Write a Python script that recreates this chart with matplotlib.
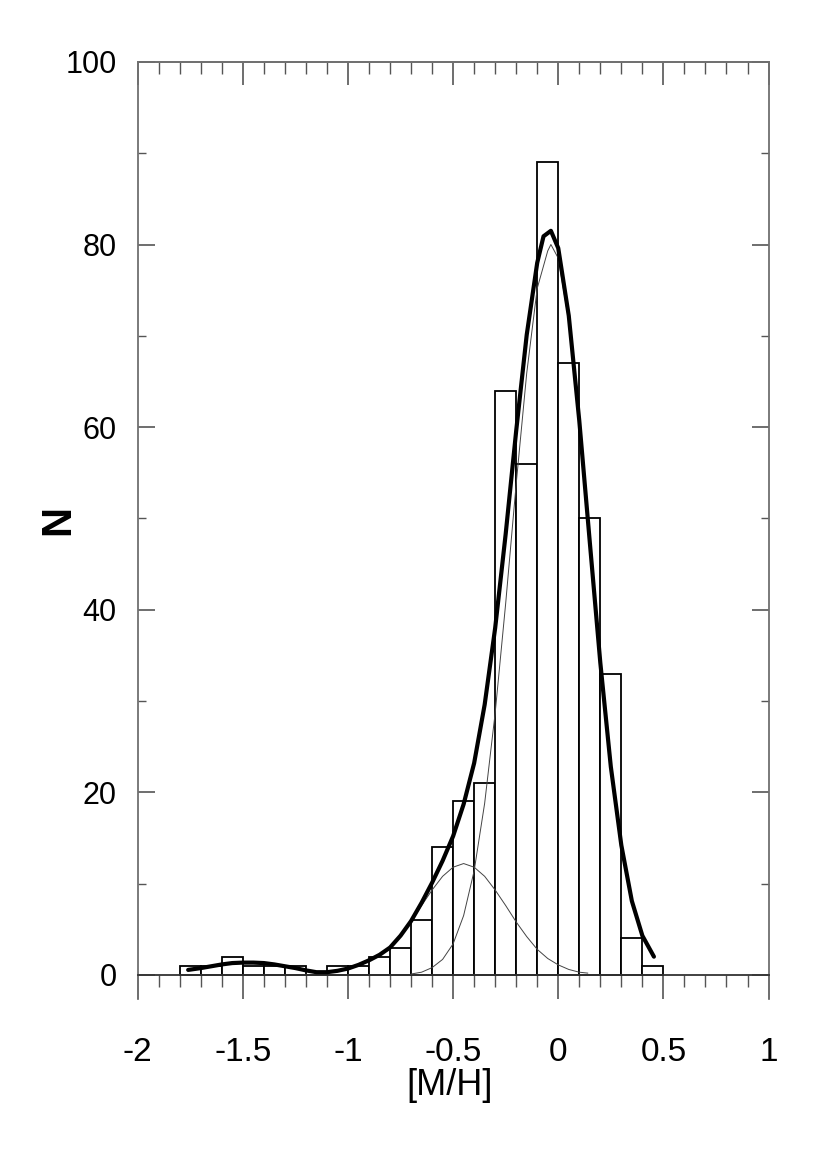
import matplotlib
matplotlib.use("Agg")
import matplotlib.pyplot as plt
from matplotlib.ticker import MultipleLocator

plt.rcParams['font.family'] = ['Liberation Sans', 'DejaVu Sans']

# [M/H] histogram, bins 0.1 wide (left edges)
bin_left = [-1.8, -1.7, -1.6, -1.5, -1.4, -1.3, -1.2, -1.1, -1.0, -0.9, -0.8, -0.7,
            -0.6, -0.5, -0.4, -0.3, -0.2, -0.1, 0.0, 0.1, 0.2, 0.3, 0.4]
counts = [1, 1, 2, 1, 1, 1, 0, 1, 1, 2, 3, 6,
          14, 19, 21, 64, 56, 89, 67, 50, 33, 4, 1]

# total fit (thick line)
fit_x = [-1.76, -1.70, -1.65, -1.60, -1.55, -1.50, -1.45, -1.40, -1.35, -1.30,
         -1.25, -1.20, -1.15, -1.10, -1.05, -1.00, -0.95, -0.90, -0.85, -0.80,
         -0.75, -0.70, -0.65, -0.60, -0.55, -0.50, -0.45, -0.40, -0.35, -0.30,
         -0.25, -0.20, -0.15, -0.10, -0.07, -0.035, 0.00, 0.05, 0.10, 0.15,
         0.20, 0.25, 0.30, 0.35, 0.40, 0.455]
fit_y = [0.55, 0.75, 0.95, 1.15, 1.3, 1.35, 1.35, 1.3, 1.15, 0.95,
         0.75, 0.5, 0.3, 0.3, 0.45, 0.7, 1.1, 1.6, 2.2, 3.0,
         4.3, 5.9, 7.9, 10.1, 12.5, 15.2, 18.7, 23.2, 29.6, 38.0,
         48.3, 59.6, 70.1, 78.0, 80.9, 81.5, 79.6, 72.2, 60.7, 47.4,
         34.2, 22.8, 14.2, 8.1, 4.3, 2.0]

# main component (thin)
main_x = [-0.70, -0.65, -0.60, -0.55, -0.50, -0.45, -0.40, -0.35, -0.30, -0.25,
          -0.20, -0.15, -0.10, -0.05, -0.035, 0.00, 0.05, 0.10, 0.15, 0.20,
          0.25, 0.30, 0.35, 0.40, 0.45]
main_y = [0.1, 0.3, 0.8, 1.7, 3.4, 6.5, 11.4, 18.8, 28.7, 40.7,
          53.8, 65.9, 75.2, 79.3, 80.0, 78.5, 71.6, 60.4, 47.2, 34.1,
          22.8, 14.2, 8.1, 4.3, 2.0]

# metal-poor component (thin)
poor_x = [-0.75, -0.70, -0.65, -0.60, -0.55, -0.50, -0.45, -0.40, -0.35, -0.30,
          -0.25, -0.20, -0.15, -0.10, -0.05, 0.00, 0.05, 0.10, 0.14]
poor_y = [4.2, 5.8, 7.6, 9.3, 10.8, 11.8, 12.2, 11.8, 10.8, 9.3,
          7.6, 5.8, 4.2, 2.8, 1.8, 1.1, 0.6, 0.3, 0.2]

xtick_vals = [-2, -1.5, -1, -0.5, 0, 0.5, 1]
xtick_txt = ['-2', '-1.5', '-1', '-0.5', '0', '0.5', '1']
ytick_vals = [0, 20, 40, 60, 80, 100]

fig = plt.figure(figsize=(8.27, 11.70), dpi=100)
ax = fig.add_axes([0.1665, 0.1462, 0.7628, 0.8009])

ax.bar(bin_left, counts, width=0.1, align='edge', facecolor='white',
       edgecolor='black', linewidth=1.3, zorder=2)
ax.plot(main_x, main_y, color='#444444', lw=0.7, zorder=3)
ax.plot(poor_x, poor_y, color='#444444', lw=0.7, zorder=3)
ax.plot(fit_x, fit_y, color='black', lw=3.0, solid_joinstyle='round',
        solid_capstyle='round', zorder=4)

ax.set_xlim(-2, 1)
ax.set_ylim(-2.63, 100)

spine_col = '#707070'
for s in ax.spines.values():
    s.set_color(spine_col)
    s.set_linewidth(1.3)
ax.spines['bottom'].set_position(('data', 0))
ax.spines['bottom'].set_color('#333333')

ax.set_xticks(xtick_vals, xtick_txt)
ax.xaxis.set_minor_locator(MultipleLocator(0.1))
ax.tick_params(axis='x', which='major', direction='out', length=17, width=1.2,
               color='#555555', labelsize=24, pad=28)
ax.tick_params(axis='x', which='minor', direction='out', length=8.5, width=1.0,
               color='#555555')

ax.set_yticks(ytick_vals)
ax.yaxis.set_minor_locator(MultipleLocator(10))
ax.tick_params(axis='y', which='major', direction='in', length=12, width=1.2,
               color='#555555', labelsize=22, pad=15, right=True)
ax.tick_params(axis='y', which='minor', direction='in', length=5.5, width=1.0,
               color='#555555', right=True)

top = ax.secondary_xaxis('top')
top.set_xticks(xtick_vals)
top.xaxis.set_minor_locator(MultipleLocator(0.1))
top.tick_params(axis='x', which='major', direction='in', length=16.5, width=1.2,
                color='#555555', labeltop=False)
top.tick_params(axis='x', which='minor', direction='in', length=8.5, width=1.0,
                color='#555555')
top.spines['top'].set_color(spine_col)
top.spines['top'].set_linewidth(1.3)

ax.set_xlabel('[M/H]', fontsize=26)
ax.xaxis.set_label_coords(0.495, -0.074)
ax.set_ylabel('N', fontsize=30, fontweight='bold', va='center')
ax.yaxis.set_label_coords(-0.126, 0.511)

fig.savefig('out.png', dpi=100)
